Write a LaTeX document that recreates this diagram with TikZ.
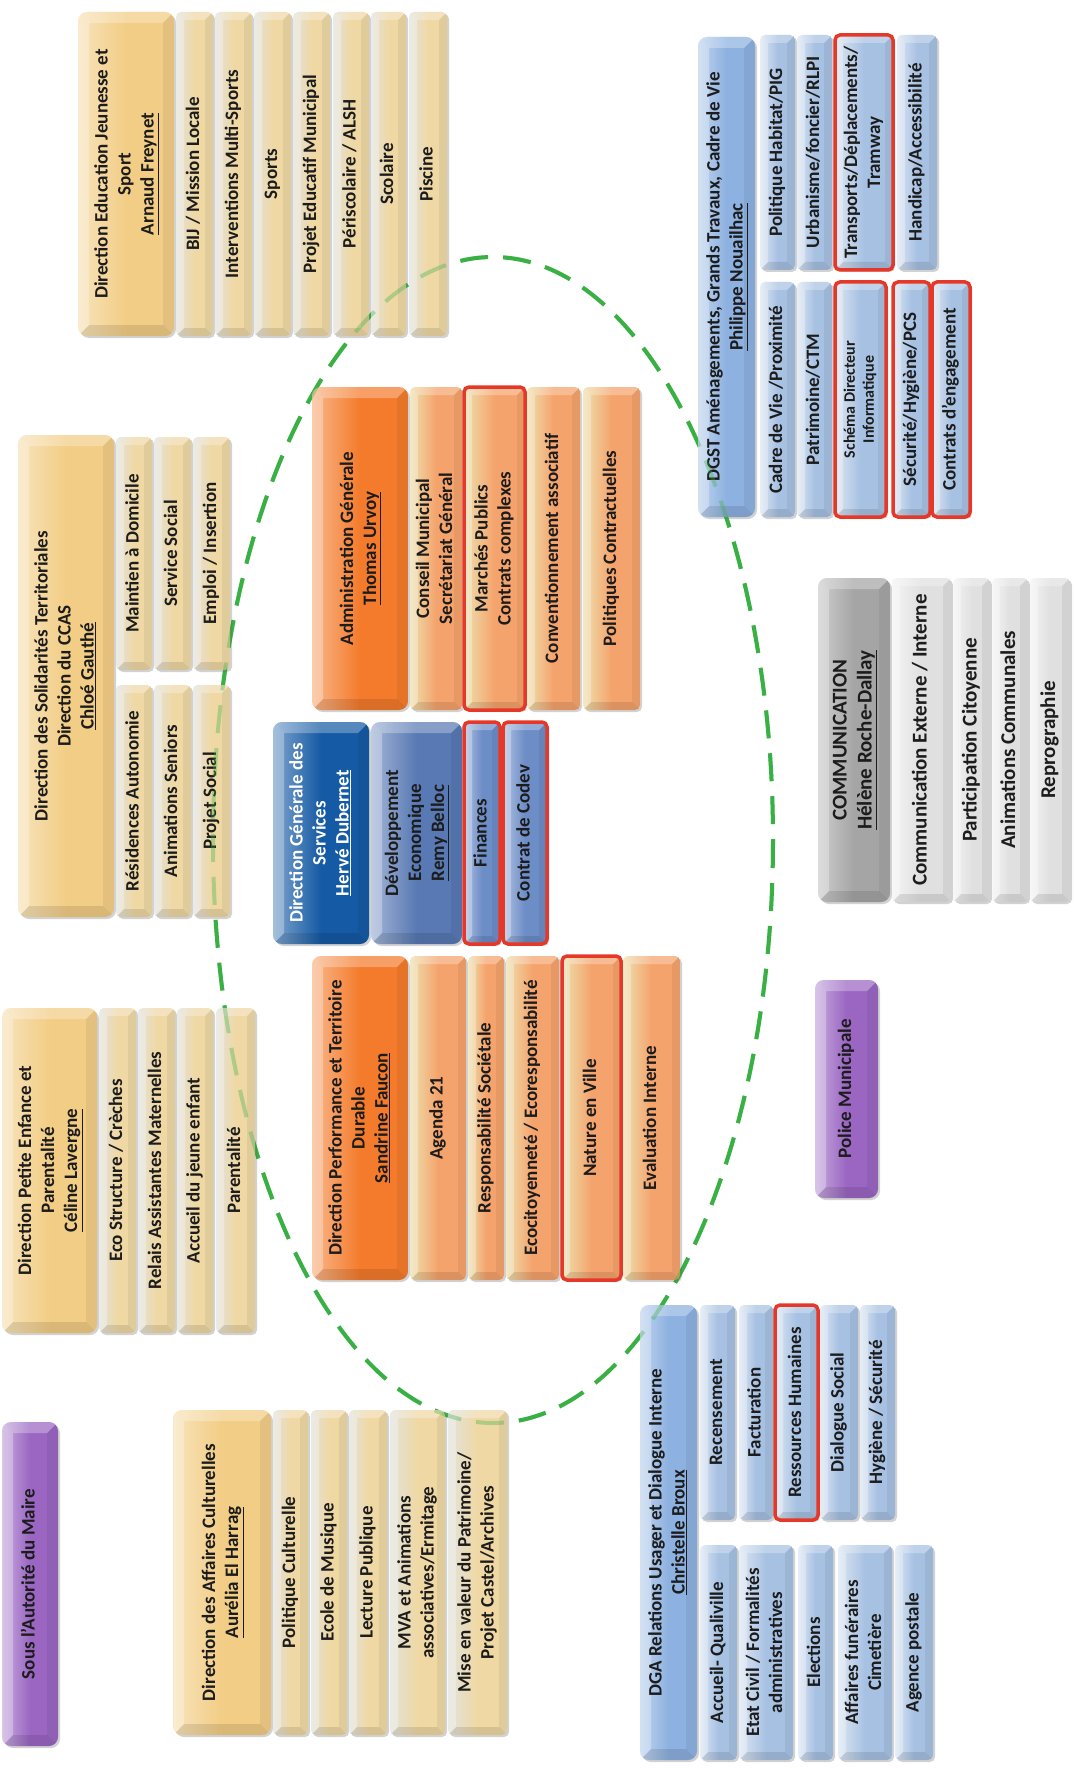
\documentclass[tikz,border=0pt]{standalone}
\usepackage{fontspec}
\setmainfont{Carlito}
\usetikzlibrary{shadows}
\definecolor{tanM}{HTML}{F2CD85}
\definecolor{tanS}{HTML}{EFD8A4}
\definecolor{tanL}{HTML}{E2E2DC}
\definecolor{orM}{HTML}{F47B2B}
\definecolor{orS}{HTML}{F5A36C}
\definecolor{orL}{HTML}{EDE0AE}
\definecolor{dgsB}{HTML}{155AA4}
\definecolor{devB}{HTML}{5879B4}
\definecolor{finB}{HTML}{6D8DC7}
\definecolor{lbM}{HTML}{8DB1E0}
\definecolor{lbS}{HTML}{A7C1E3}
\definecolor{lbL}{HTML}{DCE6F2}
\definecolor{grM}{HTML}{A5A5A5}
\definecolor{grS}{HTML}{E0E0E0}
\definecolor{grL}{HTML}{F4F4F4}
\definecolor{puM}{HTML}{9A66C2}
\definecolor{hlred}{HTML}{E63828}
\definecolor{dgreen}{HTML}{38B044}
\definecolor{txt}{HTML}{1C1C1C}
\tikzset{
  bev/.style={path picture={
    \fill[sharp corners,white,opacity=.28] (path picture bounding box.north west) -- ([shift={(#1pt,-#1pt)}]path picture bounding box.north west) -- ([shift={(-#1pt,-#1pt)}]path picture bounding box.north east) -- (path picture bounding box.north east) -- cycle;
    \fill[sharp corners,black,opacity=.10] (path picture bounding box.south west) -- ([shift={(#1pt,#1pt)}]path picture bounding box.south west) -- ([shift={(-#1pt,#1pt)}]path picture bounding box.south east) -- (path picture bounding box.south east) -- cycle;
    \fill[sharp corners,black,opacity=.06] (path picture bounding box.north east) -- ([shift={(-#1pt,-#1pt)}]path picture bounding box.north east) -- ([shift={(-#1pt,#1pt)}]path picture bounding box.south east) -- (path picture bounding box.south east) -- cycle;
    \fill[sharp corners,white,opacity=.30] (path picture bounding box.north west) -- ([shift={(#1pt,-#1pt)}]path picture bounding box.north west) -- ([shift={(#1pt,#1pt)}]path picture bounding box.south west) -- (path picture bounding box.south west) -- cycle;
  }},
  boxbase/.style={inner sep=0pt, outer sep=0pt, text=txt,
    font=\bfseries\fontsize{19}{23}\selectfont,
    drop shadow={shadow xshift=2pt, shadow yshift=-2pt, opacity=.25, fill=black!70}},
  mainbox/.style={boxbase, rounded corners=9pt, left color=#1!55!white, right color=#1, middle color=#1, bev=11},
  subbox/.style 2 args={boxbase, rounded corners=5pt, left color=#2, right color=#1, middle color=#1, bev=8},
  tanmain/.style={mainbox=tanM},
  tansub/.style={subbox={tanS}{tanL}},
  ormain/.style={mainbox=orM},
  orsub/.style={subbox={orS}{orL}},
  dgsmain/.style={mainbox=dgsB, text=white},
  devmain/.style={mainbox=devB},
  finsub/.style={subbox={finB}{finB!55!white}},
  lbmain/.style={mainbox=lbM},
  lbsub/.style={subbox={lbS}{lbL}},
  grmain/.style={mainbox=grM},
  grsub/.style={subbox={grS}{grL}},
  pumain/.style={mainbox=puM},
  hl/.style={draw=hlred, line width=3.5pt},
  smallfont/.style={font=\bfseries\fontsize{16}{19}\selectfont},
  bigfont/.style={font=\bfseries\fontsize{21}{25}\selectfont},
  ellstyle/.style={dgreen, line width=4pt, dash pattern=on 28pt off 15pt},
}
\newcommand\bx[7]{%
  \node[#6, minimum width={(#4-#2)*1pt}, minimum height={(#5-#3)*1pt}] (#1) at ({(#2+#4)/2},{(#3+#5)/2}) {\rotatebox{90}{\begin{tabular}{@{}c@{}}#7\end{tabular}}};}
\begin{document}
\begin{tikzpicture}[x=1pt,y=-1pt]
\useasboundingbox (0,0) rectangle (1073,1768);
\fill[white] (0,0) rectangle (1073,1768);
\draw[ellstyle] (493,840) ellipse [x radius=280, y radius=583];

% Education Jeunesse Sport
\bx{edu}{78}{12}{174}{336}{tanmain}{Direction Education Jeunesse et\\Sport\\\underline{Arnaud Freynet}}
\bx{edu1}{176}{12}{213}{336}{tansub}{BIJ / Mission Locale}
\bx{edu2}{215}{12}{252}{336}{tansub}{Interventions Multi-Sports}
\bx{edu3}{254}{12}{291}{336}{tansub}{Sports}
\bx{edu4}{293}{12}{330}{336}{tansub}{Projet Educatif Municipal}
\bx{edu5}{333}{12}{369}{336}{tansub}{Périscolaire / ALSH}
\bx{edu6}{371}{12}{406}{336}{tansub}{Scolaire}
\bx{edu7}{409}{12}{447}{336}{tansub}{Piscine}

% Solidarites
\bx{sol}{18}{435}{114}{917}{tanmain}{Direction des Solidarités Territoriales\\Direction du CCAS\\\underline{Chloé Gauthé}}
\bx{sol1}{116}{437}{152}{670}{tansub}{Maintien à Domicile}
\bx{sol2}{154}{437}{191}{670}{tansub}{Service Social}
\bx{sol3}{193}{437}{230}{670}{tansub}{Emploi / Insertion}
\bx{sol4}{116}{685}{152}{917}{tansub}{Résidences Autonomie}
\bx{sol5}{154}{685}{191}{917}{tansub}{Animations Seniors}
\bx{sol6}{193}{685}{230}{917}{tansub}{Projet Social}

% Petite enfance
\bx{pe}{2}{1008}{97}{1333}{tanmain}{Direction Petite Enfance et\\Parentalité\\\underline{Céline Lavergne}}
\bx{pe1}{99}{1008}{136}{1333}{tansub}{Eco Structure / Crèches}
\bx{pe2}{138}{1008}{175}{1333}{tansub}{Relais Assistantes Maternelles}
\bx{pe3}{177}{1008}{213}{1333}{tansub}{Accueil du jeune enfant}
\bx{pe4}{216}{1008}{255}{1333}{tansub}{Parentalité}

% Maire
\bx{maire}{2}{1422}{58}{1746}{pumain}{Sous l'Autorité du Maire}

% Culture
\bx{cul}{173}{1410}{271}{1735}{tanmain}{Direction des Affaires Culturelles\\\underline{Aurélia El Harrag}}
\bx{cul1}{273}{1410}{308}{1735}{tansub}{Politique Culturelle}
\bx{cul2}{311}{1410}{347}{1735}{tansub}{Ecole de Musique}
\bx{cul3}{349}{1410}{387}{1735}{tansub}{Lecture Publique}
\bx{cul4}{390}{1410}{445}{1735}{tansub}{MVA et Animations\\associatives/Ermitage}
\bx{cul5}{448}{1410}{507}{1735}{tansub}{Mise en valeur du Patrimoine/\\Projet Castel/Archives}

% Administration
\bx{adm}{312}{387}{408}{710}{ormain}{Administration Générale\\\underline{Thomas Urvoy}}
\bx{adm1}{410}{387}{462}{710}{orsub}{Conseil Municipal\\Secrétariat Général}
\bx{adm2}{464}{387}{525}{710}{orsub,hl}{Marchés Publics\\Contrats complexes}
\bx{adm3}{527}{387}{580}{710}{orsub}{Conventionnement associatif}
\bx{adm4}{583}{387}{640}{710}{orsub}{Politiques Contractuelles}

% DGS
\bx{dgs}{273}{722}{369}{944}{dgsmain}{Direction Générale des\\Services\\\underline{Hervé Dubernet}}
\bx{dev}{371}{722}{462}{944}{devmain}{Développement\\Economique\\\underline{Remy Belloc}}
\bx{fin}{464}{722}{500}{944}{finsub,hl}{Finances}
\bx{codev}{503}{722}{547}{944}{finsub,hl}{Contrat de Codev}

% Performance
\bx{perf}{312}{956}{408}{1280}{ormain}{Direction Performance et Territoire\\Durable\\\underline{Sandrine Faucon}}
\bx{perf1}{410}{956}{466}{1280}{orsub}{Agenda 21}
\bx{perf2}{468}{956}{504}{1280}{orsub}{Responsabilité Sociétale}
\bx{perf3}{506}{956}{559}{1280}{orsub}{Ecocitoyenneté / Ecoresponsabilité}
\bx{perf4}{562}{956}{621}{1280}{orsub,hl}{Nature en Ville}
\bx{perf5}{623}{956}{680}{1280}{orsub}{Evaluation Interne}

% DGST
\bx{dgst}{698}{37}{755}{517}{lbmain}{DGST Aménagements, Grands Travaux, Cadre de Vie\\\underline{Philippe Nouailhac}}
\bx{dgst1}{760}{35}{795}{270}{lbsub}{Politique Habitat/PIG}
\bx{dgst2}{797}{35}{832}{270}{lbsub}{Urbanisme/foncier/RLPI}
\bx{dgst3}{835}{35}{893}{270}{lbsub,hl}{Transports/Déplacements/\\Tramway}
\bx{dgst4}{897}{35}{937}{270}{lbsub}{Handicap/Accessibilité}
\bx{dgst5}{760}{282}{795}{517}{lbsub}{Cadre de Vie /Proximité}
\bx{dgst6}{797}{282}{832}{517}{lbsub}{Patrimoine/CTM}
\bx{dgst7}{835}{282}{886}{517}{lbsub,hl,smallfont}{Schéma Directeur\\Informatique}
\bx{dgst8}{893}{282}{930}{517}{lbsub,hl}{Sécurité/Hygiène/PCS}
\bx{dgst9}{932}{282}{970}{517}{lbsub,hl}{Contrats d'engagement}

% Communication
\bx{com}{818}{578}{890}{902}{grmain,bigfont}{COMMUNICATION\\\underline{Hélène Roche-Dallay}}
\bx{com1}{892}{578}{951}{902}{grsub,bigfont}{Communication Externe / Interne}
\bx{com2}{953}{578}{990}{902}{grsub,bigfont}{Participation Citoyenne}
\bx{com3}{992}{578}{1028}{902}{grsub,bigfont}{Animations Communales}
\bx{com4}{1030}{578}{1070}{902}{grsub,bigfont}{Reprographie}

% Police
\bx{pol}{815}{980}{878}{1198}{pumain}{Police Municipale}

% DGA
\bx{dga}{640}{1305}{697}{1760}{lbmain}{DGA Relations Usager et Dialogue Interne\\\underline{Christelle Broux}}
\bx{dga1}{700}{1305}{735}{1520}{lbsub}{Recensement}
\bx{dga2}{739}{1305}{773}{1520}{lbsub}{Facturation}
\bx{dga3}{775}{1305}{818}{1520}{lbsub,hl}{Ressources Humaines}
\bx{dga4}{820}{1305}{858}{1520}{lbsub}{Dialogue Social}
\bx{dga5}{860}{1305}{895}{1520}{lbsub}{Hygiène / Sécurité}
\bx{dga6}{700}{1545}{737}{1760}{lbsub}{Accueil- Qualiville}
\bx{dga7}{739}{1545}{793}{1760}{lbsub}{Etat Civil / Formalités\\administratives}
\bx{dga8}{798}{1545}{833}{1760}{lbsub}{Elections}
\bx{dga9}{838}{1545}{892}{1760}{lbsub}{Affaires funéraires\\Cimetière}
\bx{dga10}{895}{1545}{933}{1760}{lbsub}{Agence postale}

\draw[ellstyle, opacity=.35] (493,840) ellipse [x radius=280, y radius=583];
\end{tikzpicture}
\end{document}
